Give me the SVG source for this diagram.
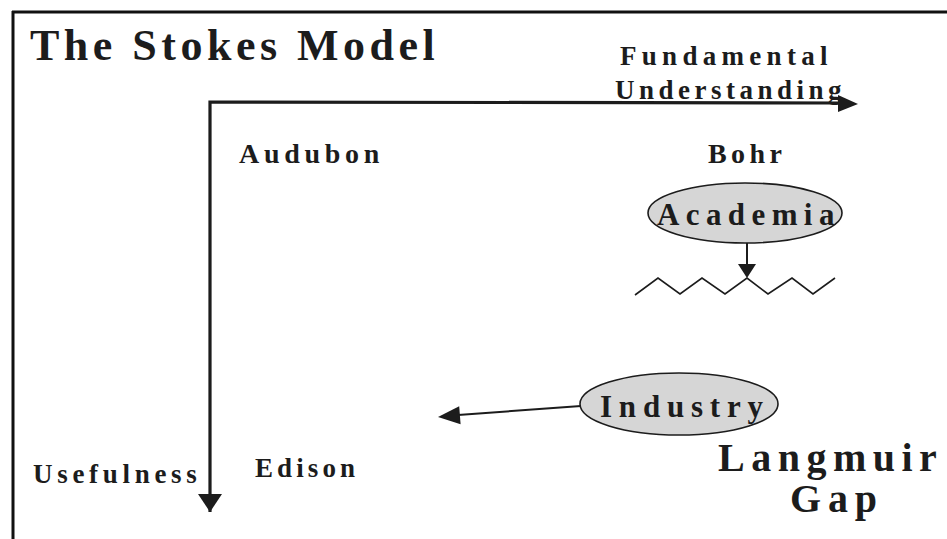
<svg xmlns="http://www.w3.org/2000/svg" width="947" height="539" viewBox="0 0 947 539">
  <style>
    .t { font-family: "Liberation Serif", "Times New Roman", serif; font-weight: bold; fill: #1c1c1c; }
    .axis { stroke: #1c1c1c; stroke-width: 3.2; fill: none; }
    .conn { stroke: #1c1c1c; stroke-width: 2; fill: none; }
    .head { fill: #1c1c1c; }
    .oval { fill: #d6d6d6; stroke: #1c1c1c; stroke-width: 1.6; }
  </style>
  <rect width="947" height="539" fill="#ffffff"/>

  <!-- frame: top and left rules -->
  <g id="frame">
    <line x1="12" y1="12" x2="947" y2="12" stroke="#111" stroke-width="3"/>
    <line x1="13" y1="11" x2="13" y2="539" stroke="#111" stroke-width="3"/>
  </g>

  <g id="title">
    <text class="t" x="30" y="60" font-size="44" letter-spacing="4.5">The Stokes Model</text>
  </g>

  <!-- axes and connectors -->
  <g id="connectors">
    <polyline class="axis" points="210,512 210,102 840,103"/>
    <polygon class="head" points="838,95 858,104 838,112"/>
    <polygon class="head" points="198,494 222,494 210,512"/>
    <line class="conn" x1="747" y1="243" x2="747" y2="265"/>
    <polygon class="head" points="738,264 756,264 747,278"/>
    <line class="conn" x1="581" y1="406" x2="458" y2="415"/>
    <polygon class="head" points="459.2,406.3 438,417 460.6,424.3"/>
    <polyline points="635,295 658,278 680,294 702,278 725,294 747,278 768,294 792,278 813,294 835,278" fill="none" stroke="#1c1c1c" stroke-width="1.6"/>
  </g>

  <g id="fundamental">
    <text class="t" x="620" y="65" font-size="27" letter-spacing="5.3">Fundamental</text>
    <text class="t" x="615" y="99" font-size="27" letter-spacing="4.5">Understanding</text>
  </g>

  <g id="audubon">
    <text class="t" x="239" y="163" font-size="28" letter-spacing="4.7">Audubon</text>
  </g>

  <g id="bohr">
    <text class="t" x="708" y="163" font-size="28" letter-spacing="4.4">Bohr</text>
  </g>

  <g id="academia">
    <ellipse class="oval" cx="745" cy="213" rx="97" ry="30"/>
    <text class="t" x="657" y="225" font-size="31" letter-spacing="6.4">Academia</text>
  </g>

  <g id="industry">
    <ellipse class="oval" cx="679" cy="404" rx="99" ry="31"/>
    <text class="t" x="600" y="417" font-size="31" letter-spacing="6.8">Industry</text>
  </g>

  <g id="usefulness">
    <text class="t" x="33" y="483" font-size="27" letter-spacing="4.7">Usefulness</text>
  </g>

  <g id="edison">
    <text class="t" x="255" y="477" font-size="27" letter-spacing="4.1">Edison</text>
  </g>

  <g id="langmuir-gap">
    <text class="t" x="718" y="471" font-size="40" letter-spacing="6.5">Langmuir</text>
    <text class="t" x="790" y="512" font-size="40" letter-spacing="6.8">Gap</text>
  </g>
</svg>
